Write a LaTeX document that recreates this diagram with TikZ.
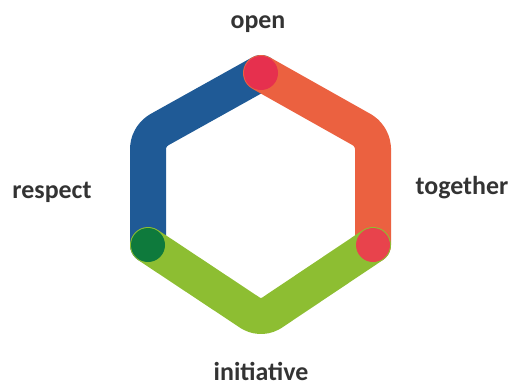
\documentclass[tikz,border=0pt]{standalone}
\usepackage{fontspec}
\setmainfont{Carlito}
\definecolor{hexblue}{HTML}{1F5A96}
\definecolor{hexorange}{HTML}{EB6140}
\definecolor{hexgreen}{HTML}{8DBE32}
\definecolor{dotred}{HTML}{E6304E}
\definecolor{dotred2}{HTML}{E8434C}
\definecolor{dotgreen}{HTML}{0E7A3C}
\definecolor{labelgray}{HTML}{333333}
\tikzset{
  seg/.style={line width=36bp, line cap=round, line join=round, rounded corners=12bp},
  dotnode/.style={circle, inner sep=0pt, minimum size=34bp},
  lbl/.style={font=\bfseries\fontsize{26}{30}\selectfont, text=labelgray, anchor=base, inner sep=0pt}
}
\begin{document}
\begin{tikzpicture}[x=1bp, y=-1bp]
\useasboundingbox (0,0) rectangle (513,385);
\coordinate (T) at (261,73);
\coordinate (UL) at (148,136);
\coordinate (LL) at (148,245);
\coordinate (B) at (261,320);
\coordinate (LR) at (373,245);
\coordinate (UR) at (373,136);
\draw[seg, hexblue] (T) -- (UL) -- (LL);
\draw[seg, hexorange] (T) -- (UR) -- (LR);
\draw[seg, hexgreen] (LL) -- (B) -- (LR);
\node[dotnode, fill=dotred] (dT) at (T) {};
\node[dotnode, fill=dotred2] (dR) at (LR) {};
\node[dotnode, fill=dotgreen] (dL) at (LL) {};
\node[lbl] (open) at (258,28) {open};
\node[lbl] (respect) at (52,198) {respect};
\node[lbl] (together) at (462,194) {together};
\node[lbl] (initiative) at (261,380) {initiative};
\end{tikzpicture}
\end{document}
